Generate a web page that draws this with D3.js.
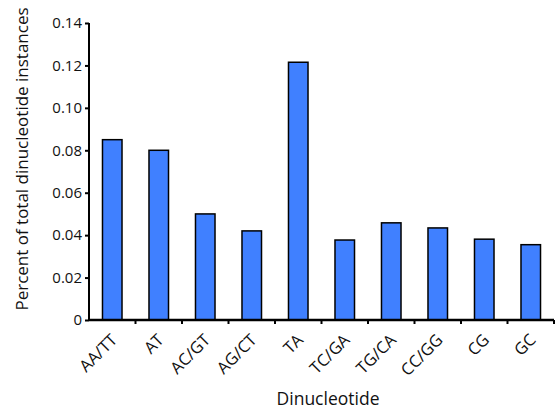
<!DOCTYPE html>
<html>
<head>
<meta charset="utf-8">
<script src="https://d3js.org/d3.v7.min.js"></script>
<style>
  body { margin: 0; background: #fff; }
  text { font-family: "Open Sans", "DejaVu Sans", sans-serif; fill: #111; }
</style>
</head>
<body>
<svg id="chart" width="556" height="409"></svg>
<script>
var categories = ["AA/TT", "AT", "AC/GT", "AG/CT", "TA", "TC/GA", "TG/CA", "CC/GG", "CG", "GC"];
var values = [0.085, 0.080, 0.050, 0.042, 0.1215, 0.0377, 0.0458, 0.0434, 0.0381, 0.0355];
var yTicks = [0, 0.02, 0.04, 0.06, 0.08, 0.10, 0.12, 0.14];
var yTickLabels = ["0", "0.02", "0.04", "0.06", "0.08", "0.10", "0.12", "0.14"];

var margin = {top: 23, right: 2, bottom: 89, left: 89};
var width = 556 - margin.left - margin.right;
var height = 409 - margin.top - margin.bottom;

var svg = d3.select("#chart");
var g = svg.append("g")
  .attr("transform", "translate(" + margin.left + "," + margin.top + ")");

var x = d3.scaleBand()
  .domain(categories)
  .range([0, width])
  .paddingInner(0.58)
  .paddingOuter(0.29);

var y = d3.scaleLinear()
  .domain([0, 0.14])
  .range([height, 0]);

// bars
g.selectAll("rect.bar")
  .data(values)
  .enter().append("rect")
  .attr("class", "bar")
  .attr("x", function(d, i) { return x(categories[i]); })
  .attr("y", function(d) { return y(d); })
  .attr("width", x.bandwidth())
  .attr("height", function(d) { return height - y(d); })
  .attr("fill", "#4080ff")
  .attr("stroke", "#000")
  .attr("stroke-width", 1.5);

// y axis
var yAxis = d3.axisLeft(y)
  .tickValues(yTicks)
  .tickFormat(function(d, i) { return yTickLabels[i]; })
  .tickSize(4)
  .tickPadding(3);

var ya = g.append("g").call(yAxis);
ya.select(".domain").attr("stroke", "#000").attr("stroke-width", 2)
  .attr("d", "M0,0V" + height);
ya.selectAll(".tick line").attr("stroke", "#000").attr("stroke-width", 2);
ya.selectAll(".tick text").style("font-size", "15px");

// x axis: ticks at band boundaries
var bounds = d3.range(categories.length + 1).map(function(i) { return i * width / categories.length; });

g.append("line")
  .attr("x1", 0).attr("x2", width)
  .attr("y1", height).attr("y2", height)
  .attr("stroke", "#000").attr("stroke-width", 2.5);

g.selectAll("line.xtick")
  .data(bounds.slice(1))
  .enter().append("line")
  .attr("class", "xtick")
  .attr("x1", function(d) { return d; }).attr("x2", function(d) { return d; })
  .attr("y1", height).attr("y2", height + 4)
  .attr("stroke", "#000").attr("stroke-width", 2);

g.selectAll("text.xlabel")
  .data(categories)
  .enter().append("text")
  .attr("class", "xlabel")
  .attr("text-anchor", "end")
  .style("font-size", "16.5px")
  .attr("transform", function(d) {
    var cx = x(d) + x.bandwidth() / 2 + 6;
    return "translate(" + cx + "," + (height + 21) + ") rotate(-45)";
  })
  .text(function(d) { return d; });

// axis titles
svg.append("text")
  .attr("text-anchor", "middle")
  .style("font-size", "17px")
  .attr("transform", "translate(28,159) rotate(-90)")
  .text("Percent of total dinucleotide instances");

svg.append("text")
  .attr("text-anchor", "middle")
  .style("font-size", "17.5px")
  .attr("x", 328)
  .attr("y", 405)
  .text("Dinucleotide");
</script>
</body>
</html>
